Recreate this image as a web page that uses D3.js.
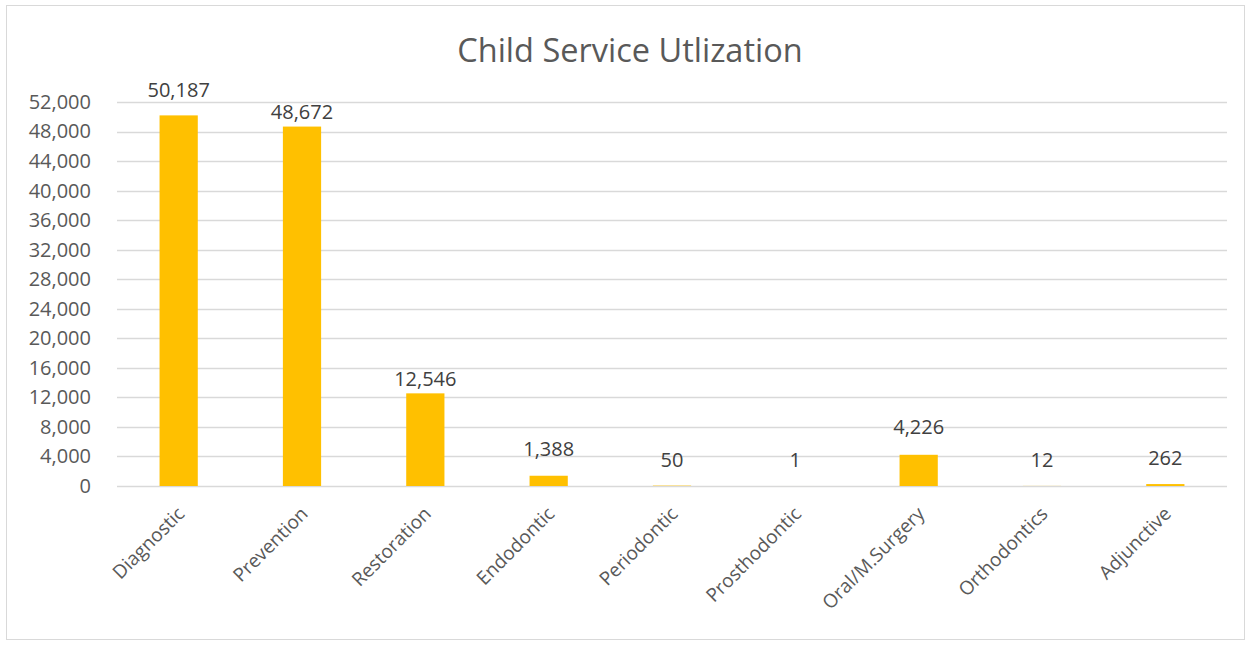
<!DOCTYPE html>
<html>
<head>
<meta charset="utf-8">
<script src="https://cdn.jsdelivr.net/npm/d3@7"></script>
<style>
  body { margin: 0; background: #fff; }
  svg { display: block; }
</style>
</head>
<body>
<svg width="1251" height="645"></svg>
<script>
const categories = ["Diagnostic", "Prevention", "Restoration", "Endodontic", "Periodontic",
                    "Prosthodontic", "Oral/M.Surgery", "Orthodontics", "Adjunctive"];
const values = [50187, 48672, 12546, 1388, 50, 1, 4226, 12, 262];
const yTicks = d3.range(0, 52001, 4000);
const title = "Child Service Utlization";

// gap between label baseline and bar top (Excel placed these by hand)
const labelGap = [18, 8, 7, 20, 19, 19, 21, 19, 19];

let svg = d3.select("svg");
const font = "'Open Sans', sans-serif";
const textColor = "#595959";

const area = { left: 117, right: 1227, top: 102, bottom: 486 };

// frame
svg.append("rect")
    .attr("x", 6.5).attr("y", 5.5)
    .attr("width", 1238).attr("height", 634)
    .style("fill", "#fff")
    .style("stroke", "#d9d9d9");

svg.append("text")
    .attr("x", 630).attr("y", 62)
    .attr("text-anchor", "middle")
    .style("font-family", font)
    .style("font-size", "32.5px")
    .style("fill", textColor)
    .text(title);

let scaleX = d3.scaleBand()
    .domain(categories)
    .range([area.left, area.right])
    .paddingInner(0.69)
    .paddingOuter(0.345);

let scaleY = d3.scaleLinear()
    .domain([0, 52000])
    .range([area.bottom, area.top]);

// gridlines
svg.append("g")
    .selectAll("line")
    .data(yTicks)
    .enter()
    .append("line")
    .attr("x1", area.left).attr("x2", area.right)
    .attr("y1", d => Math.round(scaleY(d)) + 0.5)
    .attr("y2", d => Math.round(scaleY(d)) + 0.5)
    .style("stroke", "#d9d9d9")
    .style("stroke-width", 1.5);

// y axis labels
let axisY = d3.axisLeft(scaleY)
    .tickValues(yTicks)
    .tickFormat(d3.format(","))
    .tickSize(0)
    .tickPadding(0);

let gy = svg.append("g")
    .attr("transform", `translate(91, 0)`)
    .call(axisY);
gy.select(".domain").remove();
gy.selectAll("text")
    .style("font-family", font)
    .style("font-size", "20px")
    .style("fill", textColor);

// bars
svg.selectAll(".bar")
    .data(values)
    .enter()
    .append("rect")
    .attr("x", (d, i) => scaleX(categories[i]))
    .attr("y", d => scaleY(d))
    .attr("width", scaleX.bandwidth())
    .attr("height", d => area.bottom - scaleY(d))
    .style("fill", "#FFC000");

// value labels
svg.selectAll(".val")
    .data(values)
    .enter()
    .append("text")
    .attr("x", (d, i) => scaleX(categories[i]) + scaleX.bandwidth() / 2)
    .attr("y", (d, i) => scaleY(d) - labelGap[i])
    .attr("text-anchor", "middle")
    .style("font-family", font)
    .style("font-size", "20px")
    .style("fill", "#404040")
    .text(d => d3.format(",")(d));

// x axis labels - rotated
let axisX = d3.axisBottom(scaleX).tickSize(0).tickPadding(0);
let gx = svg.append("g")
    .attr("transform", `translate(0, ${area.bottom})`)
    .call(axisX);
gx.select(".domain").remove();
gx.selectAll("text")
    .style("font-family", font)
    .style("font-size", "19px")
    .style("fill", textColor)
    .style("text-anchor", "end")
    .attr("dx", "0")
    .attr("dy", "0")
    .attr("transform", "translate(7, 29) rotate(-45)");
</script>
</body>
</html>
